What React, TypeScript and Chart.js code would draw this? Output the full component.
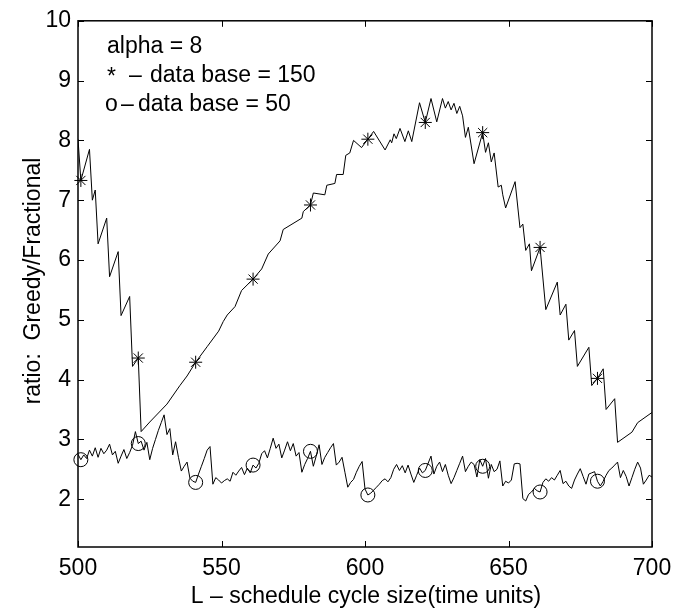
import React, { useEffect, useRef } from "react";
import { Chart, registerables } from "chart.js";

Chart.register(...registerables);

// Series "* - data base = 150": polyline vertices (x, ratio)
const s1X = [500, 501, 504, 505, 506, 507, 510, 511, 514, 515, 518, 519, 521, 522, 525, 531, 535.5, 538, 541, 545,
  549, 550.6, 552, 554.7, 557, 561, 564, 566.3, 570.4, 571.5, 578, 578.5, 581, 582, 586, 586.7, 589.5, 590.1, 592.4, 593.3,
  594.7, 596, 598.8, 601, 603, 607, 608.8, 609.3, 610.1, 610.9, 612.2, 613.9, 615.1, 616.3, 619, 621, 623, 625, 627, 628,
  629, 630, 631, 632, 633, 634, 635, 636, 638, 641, 642, 643, 644, 645, 646.4, 647.5, 648, 649, 652.3, 654,
  655, 656, 657.3, 658, 661, 663, 667, 668, 670, 671, 673, 674, 678, 679, 681, 683, 684, 687, 688, 693,
  695, 700];
const s1Y = [8.02, 7.33, 7.85, 7.0, 7.17, 6.27, 6.70, 5.72, 6.14, 5.07, 5.39, 4.22, 4.36, 3.13, 3.29, 3.59, 3.90, 4.06, 4.29, 4.55,
  4.81, 4.97, 5.08, 5.22, 5.49, 5.68, 5.85, 6.10, 6.32, 6.51, 6.70, 6.81, 6.92, 7.12, 7.09, 7.25, 7.28, 7.43, 7.43, 7.75,
  7.79, 8.0, 7.88, 8.02, 8.15, 7.84, 8.01, 7.96, 8.11, 8.03, 8.20, 7.98, 8.16, 7.98, 8.63, 8.30, 8.70, 8.31, 8.70, 8.54,
  8.65, 8.51, 8.62, 8.45, 8.57, 8.41, 8.05, 8.22, 7.61, 8.13, 7.80, 7.96, 7.64, 7.79, 7.22, 7.25, 7.09, 6.87, 7.31, 6.54,
  6.60, 6.16, 6.27, 5.82, 6.21, 5.17, 5.63, 5.08, 5.26, 4.66, 4.82, 4.22, 4.54, 3.90, 4.02, 4.18, 3.50, 3.68, 2.95, 3.12,
  3.28, 3.45];

// Series "o - data base = 50": one value per L from 500 to 700
const s2Start = 500;
const s2Y = [
  2.75, 2.66, 2.74, 2.68, 2.82, 2.72, 2.86, 2.70, 2.85, 2.76,
  2.82, 2.92, 2.74, 2.80, 2.60, 2.72, 2.83, 2.68, 2.78, 2.90,
  3.13, 2.93, 2.97, 2.82, 2.95, 2.66, 2.85, 3.00, 3.15, 3.28,
  3.41, 3.08, 3.18, 2.74, 2.96, 2.70, 2.47, 2.55, 2.62, 2.35,
  2.30, 2.28, 2.42, 2.55, 2.68, 2.82, 2.88, 2.25, 2.36, 2.32,
  2.27, 2.31, 2.34, 2.30, 2.45, 2.40, 2.47, 2.53, 2.41, 2.52,
  2.44, 2.57, 2.52, 2.60, 2.76, 2.81, 2.69, 2.85, 3.02, 2.85,
  2.92, 2.69, 2.82, 2.96, 2.81, 2.93, 2.72, 2.78, 2.45, 2.58,
  2.68, 2.80, 2.55, 2.72, 2.91, 2.58, 2.70, 2.78, 2.86, 2.93,
  2.57, 2.62, 2.70, 2.45, 2.20, 2.28, 2.33, 2.45, 2.55, 2.63,
  2.17, 2.07, 2.10, 2.15, 2.20, 2.25, 2.31, 2.34, 2.29, 2.36,
  2.50, 2.58, 2.48, 2.56, 2.44, 2.57, 2.42, 2.28, 2.40, 2.52,
  2.44, 2.48, 2.60, 2.72, 2.42, 2.55, 2.62, 2.46, 2.58, 2.40,
  2.26, 2.36, 2.48, 2.60, 2.72, 2.46, 2.55, 2.62, 2.58, 2.37,
  2.66, 2.55, 2.68, 2.35, 2.58, 2.46, 2.50, 2.64, 2.22, 2.30,
  2.27, 2.32, 2.59, 2.60, 2.59, 2.01, 1.97, 2.08, 2.12, 2.18,
  2.14, 2.12, 2.28, 2.34, 2.30, 2.36, 2.32, 2.40, 2.48, 2.26,
  2.30, 2.22, 2.18, 2.32, 2.42, 2.51, 2.38, 2.25, 2.42, 2.44,
  2.46, 2.30, 2.22, 2.30, 2.40, 2.48, 2.52, 2.57, 2.62, 2.36,
  2.48, 2.38, 2.22, 2.36, 2.50, 2.62, 2.52, 2.25, 2.32, 2.40,
  2.37,
];

// Marker positions (every 20 units)
const markerX = [501, 521, 541, 561, 581, 601, 621, 641, 661, 681];
const starY = [7.33, 4.36, 4.29, 5.68, 6.92, 8.02, 8.30, 8.13, 6.21, 4.02];
const circleY = [2.66, 2.93, 2.28, 2.57, 2.80, 2.07, 2.48, 2.55, 2.12, 2.30];

const xTicks = [500, 550, 600, 650, 700];
const yTicks = [2, 3, 4, 5, 6, 7, 8, 9, 10];

const xLabel = "L \u2013 schedule cycle size(time units)";
const yLabel = "ratio:  Greedy/Fractional";
const noteLines = ["alpha = 8", "data base = 150", "data base = 50"];

const FONT = '"Liberation Sans", Arial, Helvetica, sans-serif';

const framePlugin = {
  id: "matlabFrame",
  afterDatasetsDraw(chart: any) {
    const { ctx, chartArea: a, scales } = chart;
    ctx.save();
    ctx.strokeStyle = "#000";
    ctx.lineWidth = 1.5;
    ctx.strokeRect(a.left, a.top, a.right - a.left, a.bottom - a.top);
    ctx.lineWidth = 1;
    const tl = 6;
    ctx.beginPath();
    for (const v of xTicks) {
      const px = Math.round(scales.x.getPixelForValue(v)) + 0.5;
      ctx.moveTo(px, a.bottom);
      ctx.lineTo(px, a.bottom - tl);
      ctx.moveTo(px, a.top);
      ctx.lineTo(px, a.top + tl);
    }
    for (const v of yTicks) {
      const py = Math.round(scales.y.getPixelForValue(v)) + 0.5;
      ctx.moveTo(a.left, py);
      ctx.lineTo(a.left + tl, py);
      ctx.moveTo(a.right, py);
      ctx.lineTo(a.right - tl, py);
    }
    ctx.stroke();

    // annotation text
    ctx.fillStyle = "#000";
    ctx.font = `23px ${FONT}`;
    ctx.textBaseline = "alphabetic";
    ctx.textAlign = "left";
    ctx.fillText(noteLines[0], 107, 53);
    ctx.fillText("*", 107, 84);
    ctx.fillText("\u2013", 129, 82);
    ctx.fillText(noteLines[1], 150, 82);
    ctx.fillText("o", 105, 111);
    ctx.fillText("\u2013", 121, 111);
    ctx.fillText(noteLines[2], 138, 111);

    // axis titles
    ctx.textAlign = "center";
    ctx.fillText(xLabel, 366, 603);
    ctx.save();
    ctx.translate(40, 281);
    ctx.rotate(-Math.PI / 2);
    ctx.fillText(yLabel, 0, 0);
    ctx.restore();
    ctx.restore();
  },
};

export default function App() {
  const ref = useRef<HTMLCanvasElement | null>(null);
  useEffect(() => {
    if (!ref.current) return;
    const s1 = s1X.map((x, i) => ({ x, y: s1Y[i] }));
    const s2 = s2Y.map((y, i) => ({ x: s2Start + i, y }));
    const stars = markerX.map((x, i) => ({ x, y: starY[i] }));
    const circles = markerX.map((x, i) => ({ x, y: circleY[i] }));
    const tickFont = { family: FONT, size: 23 };
    const chart = new Chart(ref.current, {
      type: "scatter",
      data: {
        datasets: [
          { data: s1, showLine: true, borderColor: "#000", borderWidth: 1, pointRadius: 0, fill: false, tension: 0 },
          { data: s2, showLine: true, borderColor: "#000", borderWidth: 1, pointRadius: 0, fill: false, tension: 0 },
          { data: stars, showLine: false, pointStyle: "star", pointRadius: 6.5, borderColor: "#000", backgroundColor: "rgba(0,0,0,0)", pointBorderWidth: 1, clip: false },
          { data: circles, showLine: false, pointStyle: "circle", pointRadius: 7, borderColor: "#000", backgroundColor: "rgba(0,0,0,0)", pointBorderWidth: 1, clip: false },
        ],
      } as any,
      options: {
        animation: false,
        responsive: false,
        devicePixelRatio: 1,
        layout: { padding: { top: 14, right: 32, left: 0, bottom: 0 } },
        plugins: { legend: { display: false }, tooltip: { enabled: false } },
        scales: {
          x: {
            type: "linear",
            min: 500,
            max: 700,
            grid: { display: false, drawTicks: false },
            border: { display: false },
            ticks: { font: tickFont, color: "#000", padding: 8, maxRotation: 0 },
            afterBuildTicks: (s: any) => { s.ticks = xTicks.map((v) => ({ value: v })); },
            afterFit: (s: any) => { s.height = 63; },
          },
          y: {
            type: "linear",
            min: 1.2,
            max: 10,
            grid: { display: false, drawTicks: false },
            border: { display: false },
            ticks: { font: tickFont, color: "#000", padding: 7 },
            afterBuildTicks: (s: any) => { s.ticks = yTicks.map((v) => ({ value: v })); },
            afterFit: (s: any) => { s.width = 78; },
          },
        },
      } as any,
      plugins: [framePlugin],
    });
    return () => chart.destroy();
  }, []);
  return (
    <div style={{ position: "fixed", left: 0, top: 0, width: 684, height: 610, background: "#fff" }}>
      <canvas ref={ref} width={684} height={610} style={{ width: 684, height: 610, display: "block" }} />
    </div>
  );
}
